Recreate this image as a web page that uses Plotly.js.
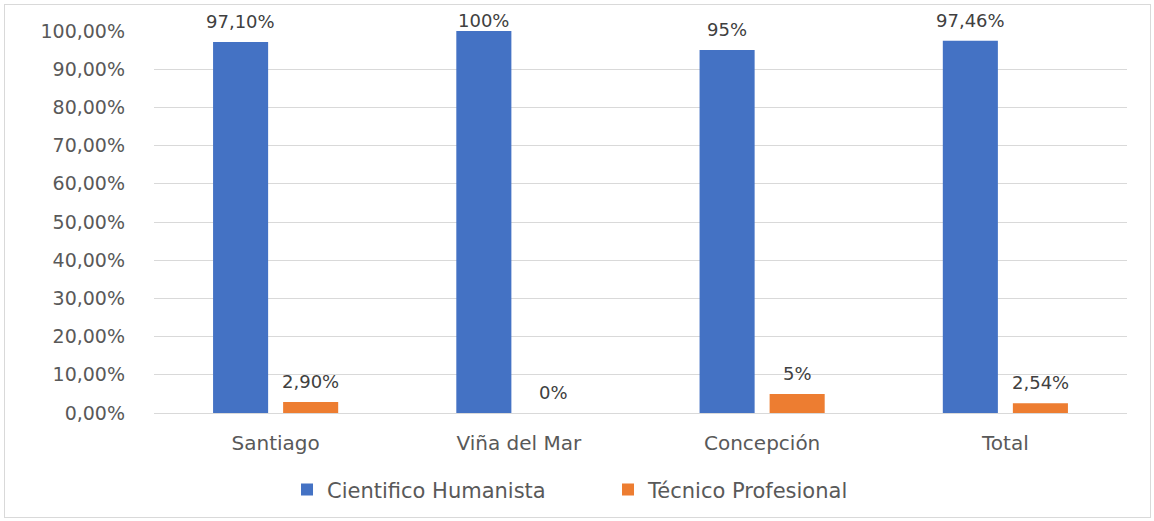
<!DOCTYPE html>
<html>
<head>
<meta charset="utf-8">
<script src="https://cdn.plot.ly/plotly-3.0.1.min.js"></script>
<style>
  body { margin: 0; background: #fff; }
  #chart { position: absolute; left: 0; top: 0; width: 1154px; height: 521px; }
  #frame { position: absolute; left: 4px; top: 4px; width: 1145px; height: 512px;
           border: 1px solid #d9d9d9; pointer-events: none; }
</style>
</head>
<body>
<div id="chart"></div>
<div id="frame"></div>
<script>
// categories and values (shares, 0-1)
var ciudades = ["Santiago", "Viña del Mar", "Concepción", "Total"];
var cientifico = [0.971, 1.00, 0.95, 0.9746];
var tecnico = [0.029, 0.00, 0.05, 0.0254];
var etiquetasCientifico = ["97,10%", "100%", "95%", "97,46%"];
var etiquetasTecnico = ["2,90%", "0%", "5%", "2,54%"];

var fuente = "DejaVu Sans, Verdana, sans-serif";

var trace1 = {
    x: ciudades,
    y: cientifico,
    name: "Cientifico Humanista",
    type: "bar",
    marker: {color: "#4472c4"},
    hoverinfo: "none"
};

var trace2 = {
    x: ciudades,
    y: tecnico,
    name: "Técnico Profesional",
    type: "bar",
    marker: {color: "#ed7d31"},
    hoverinfo: "none"
};

// data labels above each bar (half a bar slot left / right of the category)
function etiquetas(valores, textos, desplazamiento) {
    return valores.map((v, i) => ({
        x: ciudades[i],
        y: v,
        text: textos[i],
        xref: "x",
        yref: "y",
        yanchor: "bottom",
        xshift: desplazamiento,
        yshift: v >= 1 ? -2 : 8,   // label at the very top sits a bit lower, like the original
        showarrow: false,
        font: {family: fuente, size: 18, color: "#404040"}
    }));
}

var layout = {
    width: 1154,
    height: 521,
    margin: {l: 154, r: 27, t: 31, b: 107},
    barmode: "group",
    bargap: 0.424,
    bargroupgap: 0.214,
    separators: ",.",
    paper_bgcolor: "#fff",
    plot_bgcolor: "#fff",
    font: {family: fuente, color: "#595959", size: 18},
    showlegend: true,
    legend: {
        orientation: "h",
        x: 0.1367, xanchor: "left",
        y: -0.198, yanchor: "middle",
        entrywidth: 276,
        entrywidthmode: "pixels",
        font: {family: fuente, size: 21, color: "#595959"},
        itemclick: false
    },
    annotations: etiquetas(cientifico, etiquetasCientifico, -35)
        .concat(etiquetas(tecnico, etiquetasTecnico, 35)),
    xaxis: {
        showgrid: false,
        showline: false,
        zeroline: false,
        ticks: "outside",
        ticklen: 12,
        tickcolor: "rgba(0,0,0,0)",
        tickfont: {family: fuente, size: 20, color: "#595959"}
    },
    yaxis: {
        range: [0, 1],
        dtick: 0.1,
        tickformat: ".2%",
        gridcolor: "#d9d9d9",
        gridwidth: 1,
        zeroline: true,
        zerolinecolor: "#d9d9d9",
        zerolinewidth: 1,
        showline: false,
        ticklabelstandoff: 28,
        tickfont: {family: fuente, size: 19, color: "#595959"}
    }
};

Plotly.newPlot("chart", [trace1, trace2], layout, {displayModeBar: false, staticPlot: true});
</script>
</body>
</html>
